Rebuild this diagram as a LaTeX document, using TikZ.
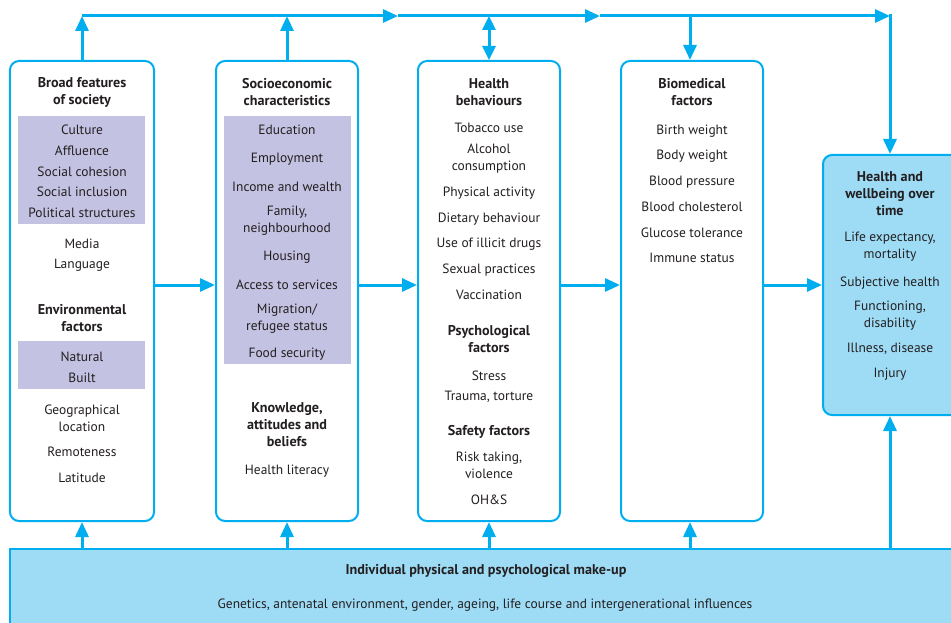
\documentclass[tikz,border=0pt]{standalone}
\usepackage{fontspec}
\setmainfont{PT Sans}
\usetikzlibrary{arrows.meta}
\definecolor{flow}{RGB}{0,174,239}
\definecolor{pale}{RGB}{158,220,246}
\definecolor{lilac}{RGB}{196,194,226}
\definecolor{ink}{RGB}{35,31,32}
\begin{document}
\begin{tikzpicture}[x=1bp,y=-1bp,
  panel/.style={draw=flow, line width=2bp, rounded corners=9bp, fill=white, inner sep=0pt},
  outcome/.style={panel, fill=pale},
  band/.style={fill=lilac, draw=none},
  txt/.style={font=\fontsize{13.5}{17}\selectfont, text=ink, align=center, inner sep=0pt},
  head/.style={txt, font=\fontsize{14.2}{17}\selectfont\bfseries},
  link/.style={draw=flow, line width=3bp, -{Triangle[length=15bp,width=13bp]}},
  both/.style={draw=flow, line width=3bp, {Triangle[length=14bp,width=13bp]}-{Triangle[length=14bp,width=13bp]}},
]
\useasboundingbox (0,0) rectangle (951,623);
\begin{scope}
\clip (0,0) rectangle (951,623);

% panels
\node[panel, minimum width=144bp, minimum height=460bp] (b1) at (82,291) {};
\node[panel, minimum width=142bp, minimum height=460bp] (b2) at (287,291) {};
\node[panel, minimum width=142bp, minimum height=460bp] (b3) at (489,291) {};
\node[panel, minimum width=142bp, minimum height=460bp] (b4) at (692,291) {};
\node[outcome, minimum width=142bp, minimum height=260bp] (b5) at (894,285) {};
\node[draw=flow, line width=2bp, fill=pale, minimum width=962bp, minimum height=90bp, inner sep=0pt] (bar) at (491,594) {};

% shaded groups
\path[band] (18,116) rectangle (145,224);
\path[band] (18,341) rectangle (145,389);
\path[band] (224,116) rectangle (351,364);

% broad features of society
\node[head] (t11) at (82,92.5) {Broad features\\of society};
\node[txt] (t12) at (82,130) {Culture};
\node[txt] (t13) at (82,151) {Affluence};
\node[txt] (t14) at (82,172) {Social cohesion};
\node[txt] (t15) at (82,192) {Social inclusion};
\node[txt] (t16) at (82,213) {Political structures};
\node[txt] (t17) at (82,244) {Media};
\node[txt] (t18) at (82,265) {Language};
\node[head] (t19) at (82,318.5) {Environmental\\factors};
\node[txt] (t1a) at (82,357) {Natural};
\node[txt] (t1b) at (82,378) {Built};
\node[txt] (t1c) at (82,418.5) {Geographical\\location};
\node[txt] (t1d) at (82,452) {Remoteness};
\node[txt] (t1e) at (82,478) {Latitude};

% socioeconomic characteristics
\node[head] (t21) at (287,92.5) {Socioeconomic\\characteristics};
\node[txt] (t22) at (287,130) {Education};
\node[txt] (t23) at (287,159) {Employment};
\node[txt] (t24) at (287,187) {Income and wealth};
\node[txt] (t25) at (287,220.5) {Family,\\neighbourhood};
\node[txt] (t26) at (287,257) {Housing};
\node[txt] (t27) at (287,285) {Access to services};
\node[txt] (t28) at (287,318.5) {Migration/\\refugee status};
\node[txt] (t29) at (287,354) {Food security};
\node[head] (t2a) at (287,424.5) {Knowledge,\\attitudes and\\beliefs};
\node[txt] (t2b) at (287,471) {Health literacy};

% health behaviours
\node[head] (t31) at (489,92.5) {Health\\behaviours};
\node[txt] (t32) at (489,128) {Tobacco use};
\node[txt] (t33) at (489,158.5) {Alcohol\\consumption};
\node[txt] (t34) at (489,193) {Physical activity};
\node[txt] (t35) at (489,219) {Dietary behaviour};
\node[txt] (t36) at (489,244) {Use of illicit drugs};
\node[txt] (t37) at (489,270) {Sexual practices};
\node[txt] (t38) at (489,295) {Vaccination};
\node[head] (t39) at (489,339.5) {Psychological\\factors};
\node[txt] (t3a) at (489,376) {Stress};
\node[txt] (t3b) at (489,397) {Trauma, torture};
\node[head] (t3c) at (489,432) {Safety factors};
\node[txt] (t3d) at (489,465.5) {Risk taking,\\violence};
\node[txt] (t3e) at (489,500) {OH\&S};

% biomedical factors
\node[head] (t41) at (692,92.5) {Biomedical\\factors};
\node[txt] (t42) at (692,131) {Birth weight};
\node[txt] (t43) at (692,156) {Body weight};
\node[txt] (t44) at (692,182) {Blood pressure};
\node[txt] (t45) at (692,207) {Blood cholesterol};
\node[txt] (t46) at (692,233) {Glucose tolerance};
\node[txt] (t47) at (692,258) {Immune status};

% outcomes
\node[head] (t51) at (890,194) {Health and\\wellbeing over\\time};
\node[txt] (t52) at (890,246.5) {Life expectancy,\\mortality};
\node[txt] (t53) at (890,283) {Subjective health};
\node[txt] (t54) at (890,315.5) {Functioning,\\disability};
\node[txt] (t55) at (890,349) {Illness, disease};
\node[txt] (t56) at (890,374) {Injury};

% individual make-up
\node[head] (t61) at (486,571) {Individual physical and psychological make-up};
\node[txt] (t62) at (485,605) {Genetics, antenatal environment, gender, ageing, life course and intergenerational influences};

% top rail
\coordinate (r1) at (82,16);
\coordinate (r2) at (287,16);
\coordinate (r3) at (489,16);
\coordinate (r4) at (690,16);
\coordinate (m1) at (398,16);
\coordinate (m2) at (600,16);
\coordinate (rc) at (890,16);
\coordinate (rs) at (890,14.5);

\draw[link] (r1) -- (m1);
\draw[link] (m1) -- (m2);
\draw[link] (m2) -- (rc);
\draw[link] (rs) -- (rc |- b5.north);
\draw[link] (b1.north -| r1) -- (r1);
\draw[link] (b2.north -| r2) -- (r2);
\draw[both] (b3.north -| r3) -- (r3);
\draw[link] (r4) -- (b4.north -| r4);

% left-to-right flow
\draw[link] (b1.east |- b5.west) -- (b2.west |- b5.west);
\draw[link] (b2.east |- b5.west) -- (b3.west |- b5.west);
\draw[link] (b3.east |- b5.west) -- (b4.west |- b5.west);
\draw[link] (b4.east |- b5.west) -- (b5.west);

% from individual make-up
\draw[link] (bar.north -| r1) -- (b1.south -| r1);
\draw[link] (bar.north -| r2) -- (b2.south -| r2);
\draw[link] (bar.north -| r3) -- (b3.south -| r3);
\draw[link] (bar.north -| r4) -- (b4.south -| r4);
\draw[link] (bar.north -| rc) -- (b5.south -| rc);
\end{scope}
\end{tikzpicture}
\end{document}
